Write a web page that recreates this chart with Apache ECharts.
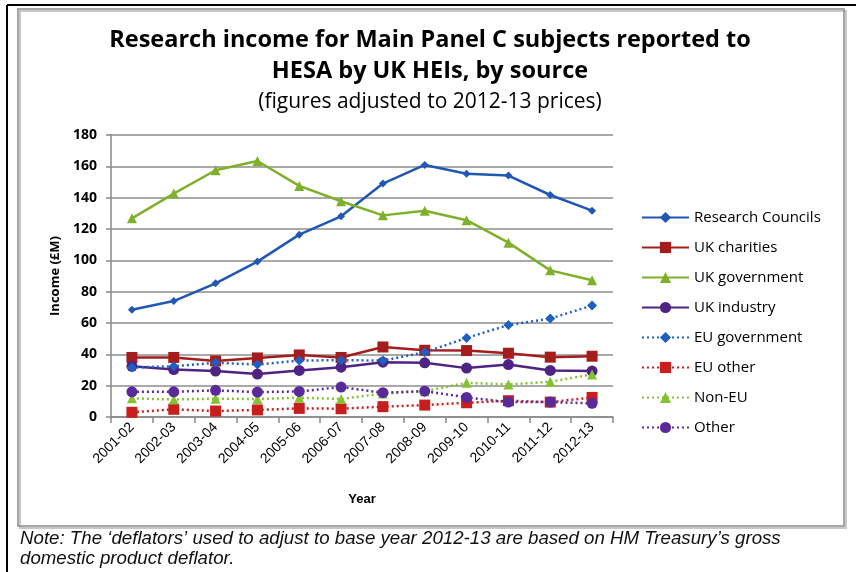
<!DOCTYPE html>
<html>
<head>
<meta charset="utf-8">
<script src="https://cdn.jsdelivr.net/npm/echarts@6/dist/echarts.min.js"></script>
<style>
  html, body { margin: 0; padding: 0; background: #fff; }
  #chart { width: 856px; height: 572px; }
</style>
</head>
<body>
<div id="chart"></div>
<script>
// Academic years on the category axis
const years = ['2001-02', '2002-03', '2003-04', '2004-05', '2005-06', '2006-07',
  '2007-08', '2008-09', '2009-10', '2010-11', '2011-12', '2012-13'];

// Research income by source, £M at 2012-13 prices
const researchCouncils = [68.5, 74, 85.3, 99.2, 116.4, 128.1, 149, 160.9, 155.3, 154.1, 141.7, 131.7];
const ukCharities      = [38, 38, 35.8, 37.7, 39.6, 38, 44.7, 42.6, 42.4, 40.7, 38.2, 38.8];
const ukGovernment     = [126.8, 142.6, 157.5, 163.4, 147.5, 137.7, 128.7, 131.7, 125.6, 111.3, 93.6, 87.3];
const ukIndustry       = [32.4, 30.3, 29.3, 27.4, 29.7, 31.8, 35, 34.6, 31.2, 33.5, 29.7, 29.3];
const euGovernment     = [31.6, 32.4, 34.6, 33.5, 36, 36.3, 36, 41.3, 50.5, 58.7, 62.8, 71.2];
const euOther          = [3, 4.9, 3.8, 4.5, 5.5, 5.3, 6.6, 7.6, 9.1, 10.4, 9.5, 12.5];
const nonEU            = [11.9, 11.2, 11.7, 11.5, 12.3, 11.5, 15, 16.5, 21.8, 20.8, 22.5, 27.2];
const other            = [16.1, 16.1, 17, 15.9, 16.3, 19.1, 15.5, 16.5, 12.5, 9.5, 9.5, 8.7];

// Y-axis tick range
const yMin = 0, yMax = 180, yStep = 20;

const chart = echarts.init(document.getElementById('chart'), null, { renderer: 'canvas' });

function mkSeries(name, data, color, symbol, size, dotted) {
  return {
    name: name,
    type: 'line',
    data: data,
    symbol: symbol,
    symbolSize: size,
    showSymbol: true,
    animation: false,
    lineStyle: { color: color, width: 2.5, type: dotted ? [2, 3] : 'solid' },
    itemStyle: { color: color, borderColor: color, borderWidth: 0 },
    emphasis: { disabled: true }
  };
}

const titleFont = 'Open Sans';
const noteFont = 'italic 18.7px "Liberation Sans"';

chart.setOption({
  backgroundColor: '#fff',
  animation: false,
  graphic: [
    // outer page rule (top and left) and the chart box with its soft shadow
    { type: 'line', shape: { x1: 7, y1: 5, x2: 856, y2: 5 }, style: { stroke: '#000', lineWidth: 2 } },
    { type: 'line', shape: { x1: 7, y1: 5, x2: 7, y2: 572 }, style: { stroke: '#000', lineWidth: 2 } },
    { type: 'rect', shape: { x: 20, y: 11, width: 826, height: 517 }, style: { fill: 'none', stroke: '#c8c8c8', lineWidth: 2 } },
    { type: 'rect', shape: { x: 18, y: 9, width: 826, height: 517 }, style: { fill: 'none', stroke: '#8a8a8a', lineWidth: 1.5 } },
    // titles
    { type: 'text', x: 430, y: 40, style: { text: 'Research income for Main Panel C subjects reported to', font: 'bold 23.5px ' + titleFont, fill: '#000', align: 'center', verticalAlign: 'middle' } },
    { type: 'text', x: 430, y: 71, style: { text: 'HESA by UK HEIs, by source', font: 'bold 23.5px ' + titleFont, fill: '#000', align: 'center', verticalAlign: 'middle' } },
    { type: 'text', x: 430, y: 102, style: { text: '(figures adjusted to 2012-13 prices)', font: '21px ' + titleFont, fill: '#000', align: 'center', verticalAlign: 'middle' } },
    // footnote
    { type: 'text', x: 20, y: 539, style: { text: 'Note: The \u2018deflators\u2019 used to adjust to base year 2012-13 are based on HM Treasury\u2019s gross', font: noteFont, fill: '#111', verticalAlign: 'middle' } },
    { type: 'text', x: 20, y: 559, style: { text: 'domestic product deflator.', font: noteFont, fill: '#111', verticalAlign: 'middle' } }
  ],
  legend: {
    orient: 'vertical',
    left: 641,
    top: 210,
    padding: 0,
    itemWidth: 47,
    itemHeight: 14,
    itemGap: 15,
    textStyle: { fontFamily: titleFont, fontSize: 15, color: '#000' },
    data: ['Research Councils', 'UK charities', 'UK government', 'UK industry',
      'EU government', 'EU other', 'Non-EU', 'Other']
  },
  grid: { left: 111, right: 243, top: 135, bottom: 155, containLabel: false },
  xAxis: {
    type: 'category',
    data: years,
    boundaryGap: true,
    name: 'Year',
    nameLocation: 'middle',
    nameGap: 76,
    nameTextStyle: { fontFamily: 'Liberation Sans', fontWeight: 'bold', fontSize: 13, color: '#000' },
    axisLine: { lineStyle: { color: '#888', width: 1.5 } },
    axisTick: { show: true, length: 6, alignWithLabel: false, lineStyle: { color: '#888', width: 1.5 } },
    axisLabel: { rotate: 45, fontFamily: 'Liberation Sans', fontSize: 14, color: '#000', margin: 8, interval: 0 },
    splitLine: { show: false }
  },
  yAxis: {
    type: 'value',
    min: yMin,
    max: yMax,
    interval: yStep,
    name: 'Income (\u00a3M)',
    nameLocation: 'middle',
    nameGap: 47,
    nameRotate: 90,
    nameTextStyle: { fontFamily: titleFont, fontWeight: 'bold', fontSize: 13, color: '#000' },
    axisLine: { show: true, lineStyle: { color: '#888', width: 1.5 } },
    axisTick: { show: true, length: 5, lineStyle: { color: '#888', width: 1.5 } },
    axisLabel: { fontFamily: titleFont, fontWeight: 'bold', fontSize: 14, color: '#000', margin: 14 },
    splitLine: { show: true, lineStyle: { color: '#8c8c8c', width: 1.5 } }
  },
  series: [
    mkSeries('Research Councils', researchCouncils, '#1f57b3', 'diamond', 8, false),
    mkSeries('UK charities', ukCharities, '#a51c1c', 'rect', 11, false),
    mkSeries('UK government', ukGovernment, '#7fb02a', 'triangle', 10, false),
    mkSeries('UK industry', ukIndustry, '#4e2383', 'circle', 11, false),
    mkSeries('EU government', euGovernment, '#1f5fc0', 'diamond', 10, true),
    mkSeries('EU other', euOther, '#c81e1e', 'rect', 11, true),
    mkSeries('Non-EU', nonEU, '#84c232', 'triangle', 10, true),
    mkSeries('Other', other, '#5a2a9a', 'circle', 11, true)
  ]
});
</script>
</body>
</html>
